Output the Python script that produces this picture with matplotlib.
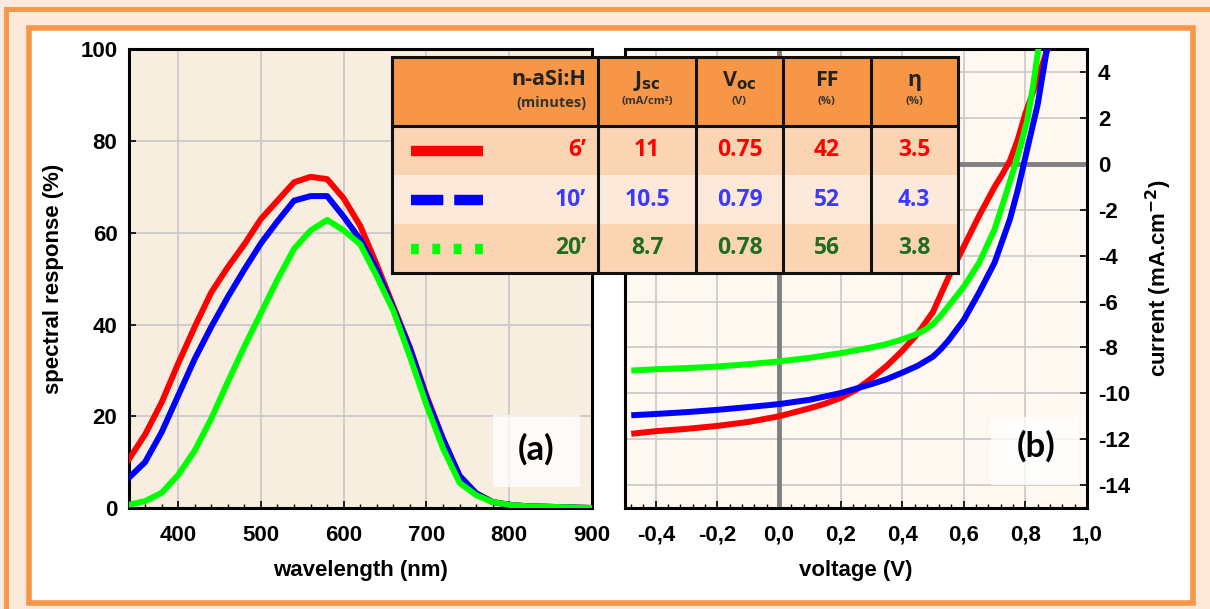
"""Spectral response and J-V curves of n-aSi:H cells, with summary table."""

import matplotlib.pyplot as plt
from matplotlib.patches import Rectangle
from matplotlib.ticker import MultipleLocator, FuncFormatter

plt.rcParams["axes.unicode_minus"] = False

# --- spectral response (a) ---
wavelength = [340, 360, 380, 400, 420, 440, 460, 480, 500, 520, 540, 560, 580,
              600, 620, 640, 660, 680, 700, 720, 740, 760, 780, 800, 820, 840,
              860, 880, 900]
sr_6 = [10.5, 16, 23, 31.5, 39.5, 47, 52.5, 57.5, 63, 67, 71, 72.2, 71.7,
        67.5, 61.5, 53, 44, 35, 24.5, 15, 7, 3.2, 1.3, 0.7, 0.4, 0.3, 0.2, 0.1, 0.0]
sr_10 = [6.5, 10, 16.5, 24.5, 32.5, 39.5, 46, 52, 57.7, 62.5, 67, 68, 68,
         63.5, 58.5, 52, 43.5, 34.8, 24, 15, 7, 3.2, 1.3, 0.7, 0.4, 0.3, 0.2, 0.1, 0.0]
sr_20 = [0.7, 1.5, 3.3, 7.2, 12.5, 19.5, 27.5, 35.2, 42.5, 49.8, 56.5, 60.5, 62.8,
         60.5, 57.5, 50.5, 43, 33, 22.5, 13, 5.5, 2.8, 1.3, 0.7, 0.4, 0.3, 0.2, 0.1, 0.0]

# --- J-V curves (b) ---
v_6 = [-0.47, -0.4, -0.3, -0.2, -0.1, 0.0, 0.1, 0.15, 0.2, 0.25, 0.3, 0.35, 0.4,
       0.45, 0.5, 0.55, 0.6, 0.65, 0.7, 0.725, 0.75, 0.775, 0.8, 0.84, 0.876]
j_6 = [-11.75, -11.65, -11.55, -11.42, -11.25, -11.0, -10.65, -10.45, -10.2, -9.85,
       -9.35, -8.8, -8.15, -7.4, -6.45, -4.95, -3.6, -2.25, -1.0, -0.45, 0.15, 1.05,
       2.2, 3.7, 5.2]
v_10 = [-0.47, -0.4, -0.3, -0.2, -0.1, 0.0, 0.1, 0.2, 0.3, 0.35, 0.4, 0.45, 0.5,
        0.525, 0.55, 0.6, 0.65, 0.7, 0.75, 0.775, 0.8, 0.84, 0.871]
j_10 = [-10.95, -10.9, -10.82, -10.72, -10.6, -10.47, -10.28, -9.99, -9.6, -9.38,
        -9.1, -8.8, -8.4, -8.08, -7.7, -6.8, -5.6, -4.3, -2.4, -1.15, 0.3, 2.6, 5.1]
v_20 = [-0.47, -0.4, -0.3, -0.2, -0.1, 0.0, 0.1, 0.2, 0.3, 0.35, 0.4, 0.45, 0.475,
        0.5, 0.525, 0.55, 0.6, 0.65, 0.7, 0.73, 0.77, 0.806, 0.825, 0.844]
j_20 = [-9.0, -8.95, -8.9, -8.83, -8.73, -8.61, -8.45, -8.25, -8.0, -7.85, -7.65,
        -7.4, -7.22, -6.98, -6.62, -6.2, -5.35, -4.3, -2.85, -1.6, 0.1, 1.9, 3.4, 5.2]

# --- table ---
times = ["6\u2019", "10\u2019", "20\u2019"]
jsc = ["11", "10.5", "8.7"]
voc = ["0.75", "0.79", "0.78"]
ff = ["42", "52", "56"]
eta = ["3.5", "4.3", "3.8"]

line_colors = ["#FF0000", "#0000FF", "#00FF00"]
text_colors = ["#FF0000", "#3B3BFF", "#1F6E1F"]
ORANGE = "#F79646"
PEACH = "#FDE9D9"
TICK_FONT = dict(family="Liberation Sans", weight="bold", size=16)
LABEL_FONT = dict(fontsize=16, fontweight="bold", family="Liberation Sans")
TAB_FONT = "Open Sans"

W, H = 1210, 609
fig = plt.figure(figsize=(W / 100, H / 100), dpi=100)
fig.patch.set_facecolor("white")


def px(x0, y0, x1, y1):
    # pixel box (top-left origin) -> figure fraction rect
    return [x0 / W, 1 - y1 / H, (x1 - x0) / W, (y1 - y0) / H]


# frame decoration
bg = fig.add_axes([0, 0, 1, 1], zorder=-10)
bg.set_xlim(0, W)
bg.set_ylim(H, 0)
bg.axis("off")
bg.add_patch(Rectangle((0, 0), W, H, facecolor=PEACH, edgecolor="none"))
bg.add_patch(Rectangle((6, 9), W + 20, H + 20, facecolor=PEACH, edgecolor=ORANGE, lw=3.5))
bg.add_patch(Rectangle((29, 27.5), 1163.5, 575, facecolor="white", edgecolor=ORANGE, lw=4))


def style_axes(ax, face):
    ax.set_facecolor(face)
    for s in ax.spines.values():
        s.set_linewidth(2.2)
        s.set_color("black")
    ax.grid(True, which="major", color="#C8C8C8", lw=1.2)
    ax.tick_params(which="major", direction="in", length=5, width=1.2, pad=8)
    ax.tick_params(axis="x", which="major", pad=12)
    ax.tick_params(which="minor", direction="in", length=3, width=1.0)
    for lab in ax.get_xticklabels() + ax.get_yticklabels():
        lab.set(**TICK_FONT)


def panel_tag(ax, text, box, xy):
    x0, y0, x1, y1 = box
    ax.add_patch(Rectangle((x0, y0), x1 - x0, y1 - y0, transform=ax.transAxes,
                           facecolor="white", alpha=0.75, edgecolor="none", zorder=6))
    ax.text(xy[0], xy[1], text, transform=ax.transAxes, ha="center", va="center",
            fontsize=25, fontweight="bold", family="Lato", zorder=7)


# --- panel (a) ---
ax1 = fig.add_axes(px(128.5, 49.3, 592, 508))
ax1.plot(wavelength, sr_6, color=line_colors[0], lw=4.3, zorder=3)
ax1.plot(wavelength, sr_10, color=line_colors[1], lw=4.3, zorder=4)
ax1.plot(wavelength, sr_20, color=line_colors[2], lw=4.3, zorder=5)
ax1.set_xlim(340, 900)
ax1.set_ylim(0, 100)
ax1.xaxis.set_major_locator(MultipleLocator(100))
ax1.xaxis.set_minor_locator(MultipleLocator(20))
ax1.yaxis.set_major_locator(MultipleLocator(20))
ax1.set_xticks([400, 500, 600, 700, 800, 900])
style_axes(ax1, "#F8EEE0")
ax1.set_xlabel("wavelength (nm)", labelpad=10, **LABEL_FONT)
ax1.set_ylabel("spectral response (%)", labelpad=12, **LABEL_FONT)
panel_tag(ax1, "(a)", (0.786, 0.046, 0.974, 0.203), (0.879, 0.128))

# --- panel (b) ---
ax2 = fig.add_axes(px(625, 49.3, 1087, 508))
ax2.axhline(0, color="#808080", lw=3.5, zorder=2)
ax2.axvline(0, color="#808080", lw=3.5, zorder=2)
ax2.plot(v_6, j_6, color=line_colors[0], lw=4.3, zorder=3)
ax2.plot(v_20, j_20, color=line_colors[2], lw=4.3, zorder=4)
ax2.plot(v_10, j_10, color=line_colors[1], lw=4.3, zorder=5)
ax2.set_xlim(-0.5, 1.0)
ax2.set_ylim(-15, 5)
ax2.xaxis.set_major_locator(MultipleLocator(0.2))
ax2.xaxis.set_minor_locator(MultipleLocator(0.04))
ax2.yaxis.set_major_locator(MultipleLocator(2))
ax2.xaxis.set_major_formatter(FuncFormatter(lambda v, p: f"{v:.1f}".replace(".", ",").replace("-0,0", "0,0")))
ax2.yaxis.tick_right()
ax2.yaxis.set_label_position("right")
style_axes(ax2, "#FEF8F1")
ax2.set_xlabel("voltage (V)", labelpad=10, **LABEL_FONT)
ax2.set_ylabel("current (mA.cm$^{\\mathbf{-2}}$)", labelpad=10, **LABEL_FONT)
panel_tag(ax2, "(b)", (0.792, 0.05, 0.982, 0.198), (0.889, 0.135))

# --- summary table overlay ---
tb = fig.add_axes([0, 0, 1, 1], zorder=10)
tb.set_xlim(0, W)
tb.set_ylim(H, 0)
tb.axis("off")
tb.patch.set_alpha(0)

col_x = [391.8, 598.4, 696, 783, 870.5, 958]
row_y = [57.3, 126, 175, 224.3, 272.7]
row_fill = ["#FAD4B3", "#FDE9DA", "#FAD4B3"]

tb.add_patch(Rectangle((col_x[0], row_y[0]), col_x[-1] - col_x[0], row_y[1] - row_y[0],
                       facecolor=ORANGE, edgecolor="none"))
for i in range(3):
    tb.add_patch(Rectangle((col_x[0], row_y[i + 1]), col_x[-1] - col_x[0],
                           row_y[i + 2] - row_y[i + 1], facecolor=row_fill[i], edgecolor="none"))
for x in col_x:
    tb.plot([x, x], [row_y[0], row_y[-1]], color="#111111", lw=2.2, solid_capstyle="projecting")
for y in (row_y[0], row_y[1], row_y[-1]):
    tb.plot([col_x[0], col_x[-1]], [y, y], color="#111111", lw=2.2, solid_capstyle="projecting")

# header
hy = (row_y[0] + row_y[1]) / 2
tb.text(col_x[1] - 12, hy - 12, "n-aSi:H", ha="right", va="center", fontsize=15.5,
        fontweight="bold", family=TAB_FONT, color="#222222")
tb.text(col_x[1] - 12, hy + 11, "(minutes)", ha="right", va="center", fontsize=10.5,
        fontweight="bold", family=TAB_FONT, color="#333333")
heads = [("J$_{\\mathbf{sc}}$", "(mA/cm\u00b2)"), ("V$_{\\mathbf{oc}}$", "(V)"),
         ("FF", "(%)"), ("\u03b7", "(%)")]
for k, (main, unit) in enumerate(heads):
    cx = (col_x[k + 1] + col_x[k + 2]) / 2
    tb.text(cx, hy - 11, main, ha="center", va="center", fontsize=15.5, fontweight="bold",
            family=[TAB_FONT, "DejaVu Sans"], color="#222222")
    tb.text(cx, hy + 10, unit, ha="center", va="center", fontsize=8, fontweight="bold",
            family=TAB_FONT, color="#333333")

# body rows
dash_styles = ["-", (0, (3.1, 1.05)), (0, (0.75, 1.3))]
for i in range(3):
    cy = (row_y[i + 1] + row_y[i + 2]) / 2
    tb.plot([411, 483], [cy, cy], color=line_colors[i], lw=7.5, linestyle=dash_styles[i],
            solid_capstyle="butt", dash_capstyle="butt")
    tb.text(col_x[1] - 12, cy, times[i], ha="right", va="center", fontsize=16.5,
            fontweight="bold", family=TAB_FONT, color=text_colors[i])
    for k, vals in enumerate([jsc, voc, ff, eta]):
        cx = (col_x[k + 1] + col_x[k + 2]) / 2
        tb.text(cx, cy, vals[i], ha="center", va="center", fontsize=16.5,
                fontweight="bold", family=TAB_FONT, color=text_colors[i])

fig.savefig("out.png", dpi=100)
